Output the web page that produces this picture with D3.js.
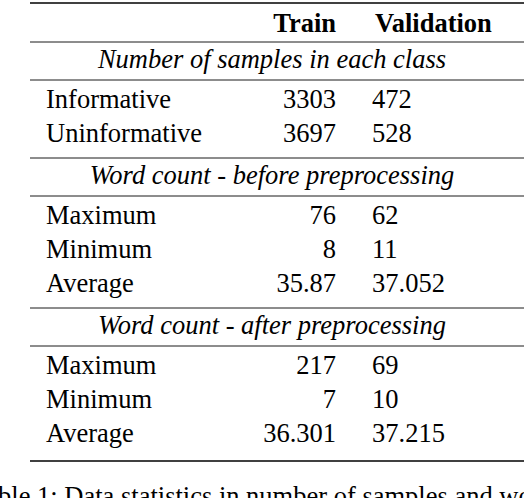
<!DOCTYPE html>
<html><head><meta charset="utf-8">
<script src="https://cdn.jsdelivr.net/npm/d3@7"></script>
<style>body{margin:0;background:#fff}svg text{font-family:"Liberation Serif",serif;font-size:26.5px;fill:#000}</style>
</head><body><div id="app"></div>
<script>
const headers = ['Train', 'Validation']
const sections = [
  'Number of samples in each class',
  'Word count - before preprocessing',
  'Word count - after preprocessing'
]
const rowLabels = [
  ['Informative', 'Uninformative'],
  ['Maximum', 'Minimum', 'Average'],
  ['Maximum', 'Minimum', 'Average']
]
const trainValues = [['3303', '3697'], ['76', '8', '35.87'], ['217', '7', '36.301']]
const validValues = [['472', '528'], ['62', '11', '37.052'], ['69', '10', '37.215']]

const W = 524, H = 498
const svg = d3.select('#app').append('svg').attr('width', W).attr('height', H)

const x0 = 30, x1 = 524, labelX = 46, trainX = 336, validX = 372
let y = 3
const rule = (yy, w) => svg.append('line').attr('x1', x0).attr('x2', x1).attr('y1', yy).attr('y2', yy)
  .attr('stroke', '#000').attr('stroke-width', w)
rule(y, 1.3)
svg.append('text').attr('x', trainX).attr('y', 32).attr('text-anchor', 'end').attr('font-weight', 'bold').text(headers[0])
svg.append('text').attr('x', 375).attr('y', 32).attr('font-weight', 'bold').text(headers[1])
y = 42
rule(y, 0.9)
sections.forEach((s, i) => {
  svg.append('text').attr('x', (x0 + 514) / 2).attr('y', y + 26).attr('text-anchor', 'middle')
    .attr('font-style', 'italic').text(s)
  y += 38
  rule(y, 0.9)
  let by = y + 28
  rowLabels[i].forEach((lab, j) => {
    svg.append('text').attr('x', labelX).attr('y', by).text(lab)
    svg.append('text').attr('x', trainX).attr('y', by).attr('text-anchor', 'end').text(trainValues[i][j])
    svg.append('text').attr('x', validX).attr('y', by).text(validValues[i][j])
    by += 34
  })
  y = by - 34 + 16
  if (i < sections.length - 1) rule(y, 0.9)
})
rule(461, 1.3)
svg.append('text').attr('x', -28).attr('y', 505).text('Table 1: Data statistics in number of samples and word count')
</script></body></html>
